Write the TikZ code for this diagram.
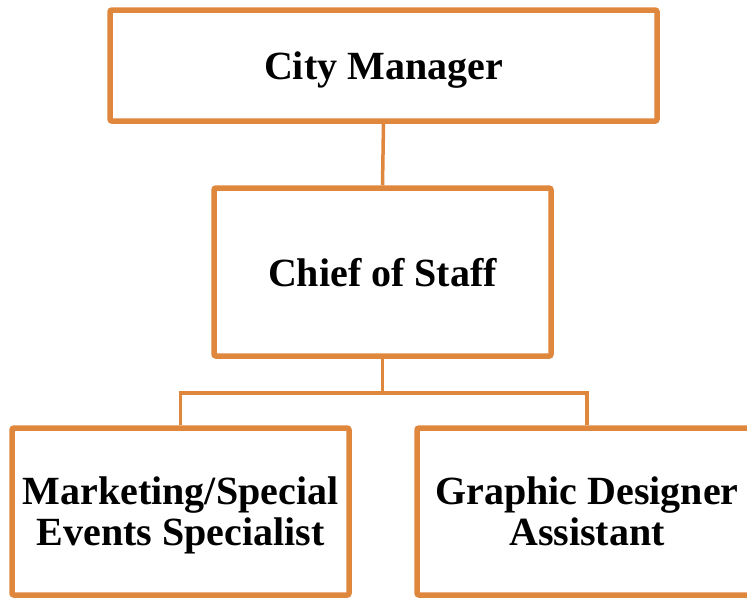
\documentclass[tikz,border=0pt]{standalone}
\usepackage{fontspec}
\setmainfont{Liberation Serif}
\usetikzlibrary{shadows}
\definecolor{boxorange}{HTML}{E0873E}
\begin{document}
\begin{tikzpicture}[x=1pt,y=-1pt,
  orgbox/.style={draw=boxorange, line width=5.5pt, fill=white, rounded corners=2pt,
    align=center, inner sep=0pt, text depth=0pt,
    font=\fontsize{40}{41}\selectfont\bfseries,
    drop shadow={opacity=0.25, shadow xshift=2pt, shadow yshift=-2.5pt}},
  link/.style={draw=boxorange, line width=3.5pt}]
\useasboundingbox (0,0) rectangle (747,598);
\begin{scope}
\clip (0,0) rectangle (747,598);
\node[orgbox, minimum width=547pt, minimum height=111pt] (cm) at (383.5,65.5) {City Manager};
\node[orgbox, minimum width=337pt, minimum height=168pt] (cos) at (382.5,272) {Chief of Staff};
\node[orgbox, minimum width=337pt, minimum height=167pt] (mkt) at (180.5,511.5) {Marketing/Special\\Events Specialist};
\node[orgbox, minimum width=340pt, minimum height=167pt] (gda) at (587,511.5) {Graphic Designer\\Assistant};
\coordinate (bus) at (382.5,393);
\draw[link] (cm.south) -- (cos.north);
\draw[link] (cos.south) -- (bus);
\draw[link] (bus) -| (mkt.north);
\draw[link] (bus) -| (gda.north);
\end{scope}
\end{tikzpicture}
\end{document}
